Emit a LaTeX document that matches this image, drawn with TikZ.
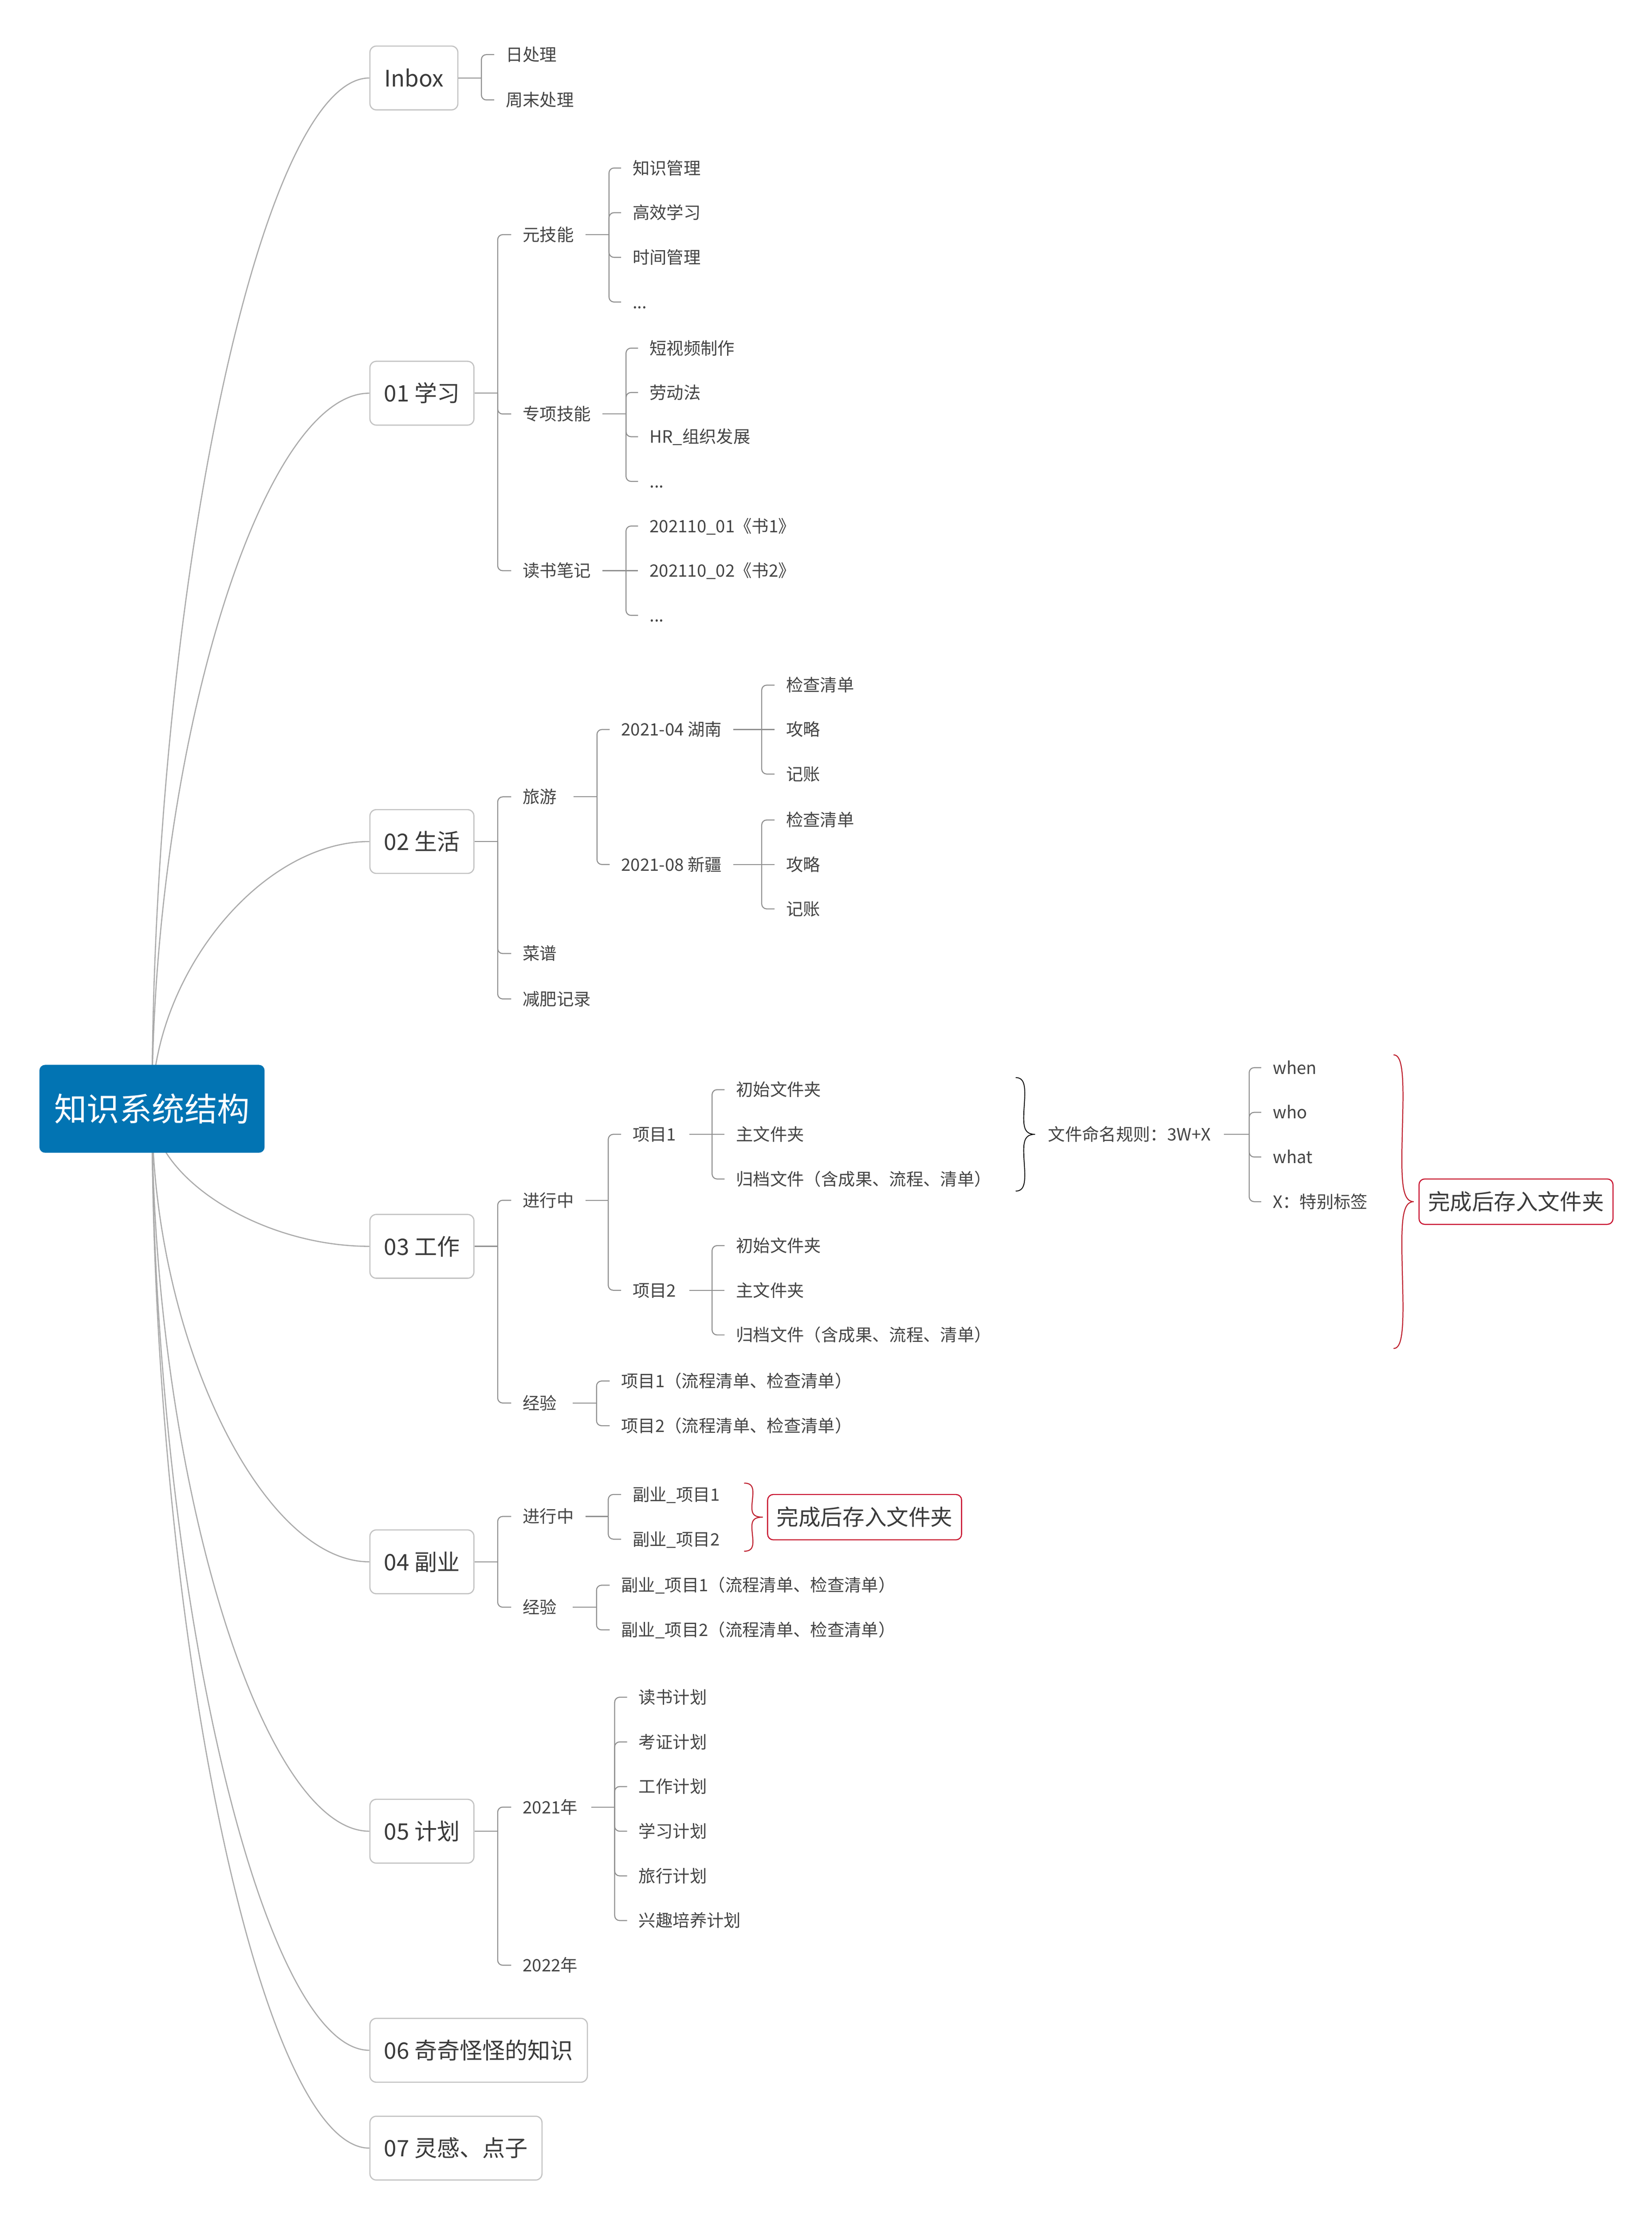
\documentclass[tikz,border=0pt]{standalone}
\usepackage{fontspec}
\setmainfont{Noto Sans CJK SC}
\usetikzlibrary{calc}
\definecolor{rootblue}{HTML}{0274B3}
\definecolor{curvegray}{HTML}{ABABAB}
\definecolor{brgray}{HTML}{8E8E8E}
\definecolor{boxgray}{HTML}{C2C2C2}
\definecolor{boxtxt}{HTML}{3A3A3A}
\definecolor{lbltxt}{HTML}{444444}
\definecolor{mred}{HTML}{C8102E}
\definecolor{bracered}{HTML}{BE1E2D}
\pgfdeclarelayer{bg}
\pgfsetlayers{bg,main}
\newcommand\rcurve[1]{%
  \coordinate (m#1) at ($(root.center)!0.5!(#1.west)$);
  \draw[rootcurve] (root.center) .. controls (root.center |- m#1) and (m#1 |- #1.west) .. (#1.west);%
}
\newcommand\mmfork[4]{%
  \coordinate (vx#1) at (#3,0);
  \coordinate (j#1) at (vx#1 |- #1.center);
  \draw[brline] ([xshift=#2]#1.east) -- (j#1);
  \foreach \cn in {#4}{\draw[brline] (j#1) |- ([xshift=-8pt]\cn.west);}%
}
\newcommand\mmstraight[2]{%
  \draw[brline] (j#1) -- ([xshift=-8pt]#2.west);%
}
% curly brace: style, x of ends, y top, y bottom, width
\newcommand\mmbrace[5]{%
  \pgfmathsetmacro\bH{(#4-#3)/2}%
  \pgfmathsetmacro\bM{(#4+#3)/2}%
  \draw[#1] (#2,#3) .. controls ({#2+0.4*#5},#3) and ({#2+0.5*#5},{#3+0.12*\bH}) .. ({#2+0.45*#5},{#3+0.4*\bH})
     .. controls ({#2+0.38*#5},{#3+0.8*\bH}) and ({#2+0.3*#5},\bM) .. ({#2+#5},\bM)
     .. controls ({#2+0.3*#5},\bM) and ({#2+0.38*#5},{#4-0.8*\bH}) .. ({#2+0.45*#5},{#4-0.4*\bH})
     .. controls ({#2+0.5*#5},{#4-0.12*\bH}) and ({#2+0.4*#5},#4) .. (#2,#4);%
}
\begin{document}
\begin{tikzpicture}[x=1pt,y=-1pt,
  rootcurve/.style={draw=curvegray,line width=0.8pt},
  brline/.style={draw=brgray,line width=0.7pt,rounded corners=3.5pt},
  rootbox/.style={fill=rootblue,rounded corners=4pt,text=white,font=\fontsize{23pt}{27pt}\selectfont,minimum width=158.8pt,minimum height=62pt,inner sep=0pt,text height=20.2pt,text depth=2.8pt},
  mainbox/.style={draw=boxgray,line width=0.8pt,fill=white,rounded corners=4.5pt,text=boxtxt,font=\fontsize{16pt}{19pt}\selectfont,minimum height=45pt,minimum width=62pt,inner xsep=10pt,inner ysep=0pt,text height=14.1pt,text depth=1.9pt,anchor=west},
  lbl/.style={text=lbltxt,font=\fontsize{12pt}{14pt}\selectfont,inner sep=0pt,text height=10.5pt,text depth=1.5pt,anchor=west},
  redbox/.style={draw=mred,line width=0.75pt,rounded corners=4pt,text=boxtxt,font=\fontsize{15.5pt}{18pt}\selectfont,minimum height=32pt,inner xsep=6.4pt,inner ysep=0pt,text height=13.6pt,text depth=1.9pt,anchor=west},
  blackbrace/.style={draw=black,line width=0.6pt,line cap=round},
  redbrace/.style={draw=bracered,line width=0.7pt,line cap=round},
]
\useasboundingbox (0,0) rectangle (1165,1564.3);

% main topics
\node[mainbox] (inbox) at (260.5,55) {Inbox};
\node[mainbox] (b1) at (260.5,277.3) {01 学习};
\node[mainbox] (b2) at (260.5,593.5) {02 生活};
\node[mainbox] (b3) at (260.5,879) {03 工作};
\node[mainbox] (b4) at (260.5,1101.5) {04 副业};
\node[mainbox] (b5) at (260.5,1291.5) {05 计划};
\node[mainbox] (b6) at (260.5,1446) {06 奇奇怪怪的知识};
\node[mainbox] (b7) at (260.5,1515) {07 灵感、点子};

% root
\node[rootbox] (root) at (107.2,782) {知识系统结构};

\begin{pgfonlayer}{bg}
\fill[white] (0,0) rectangle (1165,1564.3);
\rcurve{inbox}
\rcurve{b1}
\rcurve{b2}
\rcurve{b3}
\rcurve{b4}
\rcurve{b5}
\rcurve{b6}
\rcurve{b7}
\end{pgfonlayer}

% Inbox
\node[lbl] (ia) at (356.5,38.5) {日处理};
\node[lbl] (ib) at (356.5,70.5) {周末处理};
\mmfork{inbox}{0pt}{339.5}{ia,ib}

% 01 学习
\node[lbl] (s1) at (368.5,165.5) {元技能};
\node[lbl] (s2) at (368.5,292) {专项技能};
\node[lbl] (s3) at (368.5,402.5) {读书笔记};
\mmfork{b1}{0pt}{351}{s1,s2,s3}
\node[lbl] (s1a) at (446,118.5) {知识管理};
\node[lbl] (s1b) at (446,150) {高效学习};
\node[lbl] (s1c) at (446,181.5) {时间管理};
\node[lbl] (s1d) at (446,213) {...};
\mmfork{s1}{8pt}{429.5}{s1a,s1b,s1c,s1d}
\node[lbl] (s2a) at (458,245.5) {短视频制作};
\node[lbl] (s2b) at (458,276.8) {劳动法};
\node[lbl] (s2c) at (458,308) {HR\_组织发展};
\node[lbl] (s2d) at (458,339.5) {...};
\mmfork{s2}{8pt}{441.5}{s2a,s2b,s2c,s2d}
\node[lbl] (s3a) at (458,371) {202110\_01《书1》};
\node[lbl] (s3b) at (458,402.5) {202110\_02《书2》};
\node[lbl] (s3c) at (458,434) {...};
\mmfork{s3}{8pt}{441.5}{s3a,s3c}
\mmstraight{s3}{s3b}

% 02 生活
\node[lbl] (l1) at (368.5,562) {旅游};
\node[lbl] (l2) at (368.5,672.5) {菜谱};
\node[lbl] (l3) at (368.5,704.5) {减肥记录};
\mmfork{b2}{0pt}{351}{l1,l2,l3}
\node[lbl] (la) at (438,514.5) {2021-04 湖南};
\node[lbl] (lb) at (438,609.7) {2021-08 新疆};
\mmfork{l1}{11.5pt}{421}{la,lb}
\node[lbl] (la1) at (554.2,483.2) {检查清单};
\node[lbl] (la2) at (554.2,514.5) {攻略};
\node[lbl] (la3) at (554.2,545.9) {记账};
\mmfork{la}{8pt}{537.2}{la1,la3}
\mmstraight{la}{la2}
\node[lbl] (lb1) at (554.2,578.3) {检查清单};
\node[lbl] (lb2) at (554.2,609.7) {攻略};
\node[lbl] (lb3) at (554.2,641) {记账};
\mmfork{lb}{8pt}{537.2}{lb1,lb3}
\mmstraight{lb}{lb2}

% 03 工作
\node[lbl] (w1) at (368.5,846.5) {进行中};
\node[lbl] (w2) at (368.5,989.5) {经验};
\mmfork{b3}{0pt}{351}{w1,w2}
\node[lbl] (wa) at (446,800) {项目1};
\node[lbl] (wb) at (446,910) {项目2};
\mmfork{w1}{8pt}{429}{wa,wb}
\node[lbl] (wa1) at (519,768.5) {初始文件夹};
\node[lbl] (wa2) at (519,800) {主文件夹};
\node[lbl] (wa3) at (519,831.5) {归档文件（含成果、流程、清单）};
\mmfork{wa}{9pt}{502.2}{wa1,wa3}
\mmstraight{wa}{wa2}
\node[lbl] (wb1) at (519,878.5) {初始文件夹};
\node[lbl] (wb2) at (519,910) {主文件夹};
\node[lbl] (wb3) at (519,941.5) {归档文件（含成果、流程、清单）};
\mmfork{wb}{9pt}{502.2}{wb1,wb3}
\mmstraight{wb}{wb2}
\node[lbl] (w2a) at (438,974) {项目1（流程清单、检查清单）};
\node[lbl] (w2b) at (438,1005.5) {项目2（流程清单、检查清单）};
\mmfork{w2}{11pt}{420.7}{w2a,w2b}

% naming rule summary
\mmbrace{blackbrace}{716.5}{760}{840}{13.5}
\node[lbl] (rule) at (739,800) {文件命名规则：3W+X};
\node[lbl] (r1) at (897.5,753) {when};
\node[lbl] (r2) at (897.5,784.5) {who};
\node[lbl] (r3) at (897.5,816) {what};
\node[lbl] (r4) at (897.5,847.5) {X：特别标签};
\mmfork{rule}{9pt}{881}{r1,r2,r3,r4}
\mmbrace{redbrace}{983}{744}{951}{14}
\node[redbox] (rb1) at (1000.4,847.5) {完成后存入文件夹};

% 04 副业
\node[lbl] (f1) at (368.5,1069.5) {进行中};
\node[lbl] (f2) at (368.5,1133.5) {经验};
\mmfork{b4}{0pt}{351}{f1,f2}
\node[lbl] (f1a) at (446,1054) {副业\_项目1};
\node[lbl] (f1b) at (446,1085.5) {副业\_项目2};
\mmfork{f1}{8pt}{429}{f1a,f1b}
\mmbrace{redbrace}{525}{1046}{1094}{13}
\node[redbox] (rb2) at (541,1070) {完成后存入文件夹};
\node[lbl] (f2a) at (438,1118) {副业\_项目1（流程清单、检查清单）};
\node[lbl] (f2b) at (438,1149.5) {副业\_项目2（流程清单、检查清单）};
\mmfork{f2}{11pt}{420.7}{f2a,f2b}

% 05 计划
\node[lbl] (p1) at (368.5,1274.5) {2021年};
\node[lbl] (p2) at (368.5,1386) {2022年};
\mmfork{b5}{0pt}{351}{p1,p2}
\node[lbl] (p1a) at (450.3,1197) {读书计划};
\node[lbl] (p1b) at (450.3,1228.5) {考证计划};
\node[lbl] (p1c) at (450.3,1260) {工作计划};
\node[lbl] (p1d) at (450.3,1291.5) {学习计划};
\node[lbl] (p1e) at (450.3,1323) {旅行计划};
\node[lbl] (p1f) at (450.3,1354.5) {兴趣培养计划};
\mmfork{p1}{9.4pt}{433.5}{p1a,p1b,p1c,p1d,p1e,p1f}
\end{tikzpicture}
\end{document}
